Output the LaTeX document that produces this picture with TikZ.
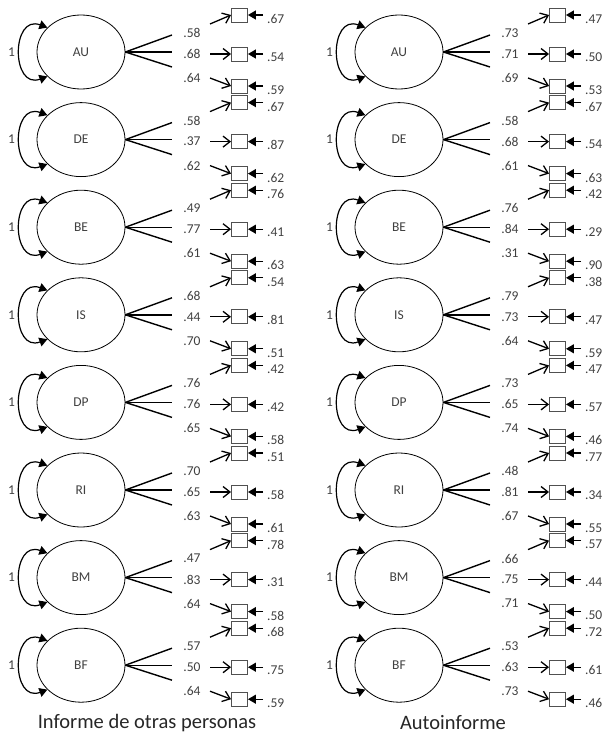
\documentclass[tikz,border=0pt]{standalone}
\usepackage{fontspec}
\setmainfont{Carlito}
\usetikzlibrary{arrows.meta,shapes.geometric}
\definecolor{txt}{HTML}{404040}
\definecolor{boxc}{HTML}{505050}
\tikzset{
  lat/.style={draw, ellipse, line width=0.8pt, minimum width=88pt, minimum height=74pt, inner sep=0pt, text=txt, font=\fontsize{13.5}{15}\selectfont},
  obs/.style={draw=boxc, line width=0.9pt, minimum width=16pt, minimum height=14pt, inner sep=0pt},
  ld/.style={line width=1.4pt},
  ldarr/.style={line width=1.3pt, -{Straight Barb[length=7pt,width=11pt,line width=1.3pt]}},
  errarr/.style={line width=1.3pt, -{Triangle[length=8pt,width=9pt]}},
  looparr/.style={line width=1.2pt, {Triangle[length=8pt,width=9pt]}-{Triangle[length=8pt,width=9pt]}},
  num/.style={text=txt, font=\fontsize{13.5}{15}\selectfont, inner sep=0pt},
  captext/.style={text=black!85, font=\fontsize{20.5}{24}\selectfont, inner sep=0pt}
}
\newcommand\semblock[9]{%
  \begin{scope}[shift={(#1,#2)}]
    \node[lat] (L#1#3) at (81,0) {#3};
    \draw[looparr] (L#1#3.144) .. controls (11,-38) and (11,38) .. (L#1#3.216);
    \node[num] (one#1#3) at (11.5,0) {1};
    \coordinate (ta#1#3) at (172,-17);
    \coordinate (tb#1#3) at (172,0);
    \coordinate (tc#1#3) at (172,15);
    \draw[ld] (L#1#3.east) -- (ta#1#3);
    \draw[ld] (L#1#3.east) -- (tb#1#3);
    \draw[ld] (L#1#3.east) -- (tc#1#3);
    \node[num] (la#1#3) at (192,-19) {#4};
    \node[num] (lb#1#3) at (192,2) {#5};
    \node[num] (lc#1#3) at (192,26) {#6};
    \node[obs] (ba#1#3) at (239.5,-37) {};
    \node[obs] (bb#1#3) at (239.5,2) {};
    \node[obs] (bc#1#3) at (239.5,34) {};
    \coordinate (sa#1#3) at (210,-28);
    \coordinate (sb#1#3) at (210,2);
    \coordinate (sc#1#3) at (210,26);
    \draw[ldarr] (sa#1#3) -- (ba#1#3.west);
    \draw[ldarr] (sb#1#3) -- (bb#1#3.west);
    \draw[ldarr] (sc#1#3) -- (bc#1#3.west);
    \coordinate (ea#1#3) at (263,-37);
    \coordinate (eb#1#3) at (263,2);
    \coordinate (ec#1#3) at (263,34);
    \draw[errarr] (ea#1#3) -- (ba#1#3.east);
    \draw[errarr] (eb#1#3) -- (bb#1#3.east);
    \draw[errarr] (ec#1#3) -- (bc#1#3.east);
    \node[num, anchor=west] (ra#1#3) at (267,-33) {#7};
    \node[num, anchor=west] (rb#1#3) at (267,5) {#8};
    \node[num, anchor=west] (rc#1#3) at (267,38) {#9};
  \end{scope}}
\begin{document}
\begin{tikzpicture}[x=1pt,y=-1pt]
  \useasboundingbox (0,0) rectangle (607,736);
  \semblock{0}{52}{AU}{.58}{.68}{.64}{.67}{.54}{.59}
  \semblock{0}{139.6}{DE}{.58}{.37}{.62}{.67}{.87}{.62}
  \semblock{0}{227.2}{BE}{.49}{.77}{.61}{.76}{.41}{.63}
  \semblock{0}{314.8}{IS}{.68}{.44}{.70}{.54}{.81}{.51}
  \semblock{0}{402.4}{DP}{.76}{.76}{.65}{.42}{.42}{.58}
  \semblock{0}{490}{RI}{.70}{.65}{.63}{.51}{.58}{.61}
  \semblock{0}{577.6}{BM}{.47}{.83}{.64}{.78}{.31}{.58}
  \semblock{0}{665.2}{BF}{.57}{.50}{.64}{.68}{.75}{.59}
  \semblock{318}{52}{AU}{.73}{.71}{.69}{.47}{.50}{.53}
  \semblock{318}{139.6}{DE}{.58}{.68}{.61}{.67}{.54}{.63}
  \semblock{318}{227.2}{BE}{.76}{.84}{.31}{.42}{.29}{.90}
  \semblock{318}{314.8}{IS}{.79}{.73}{.64}{.38}{.47}{.59}
  \semblock{318}{402.4}{DP}{.73}{.65}{.74}{.47}{.57}{.46}
  \semblock{318}{490}{RI}{.48}{.81}{.67}{.77}{.34}{.55}
  \semblock{318}{577.6}{BM}{.66}{.75}{.71}{.57}{.44}{.50}
  \semblock{318}{665.2}{BF}{.53}{.63}{.73}{.72}{.61}{.46}
  \node[captext] (capL) at (147,723) {Informe de otras personas};
  \node[captext] (capR) at (453,723) {Autoinforme};
\end{tikzpicture}
\end{document}
